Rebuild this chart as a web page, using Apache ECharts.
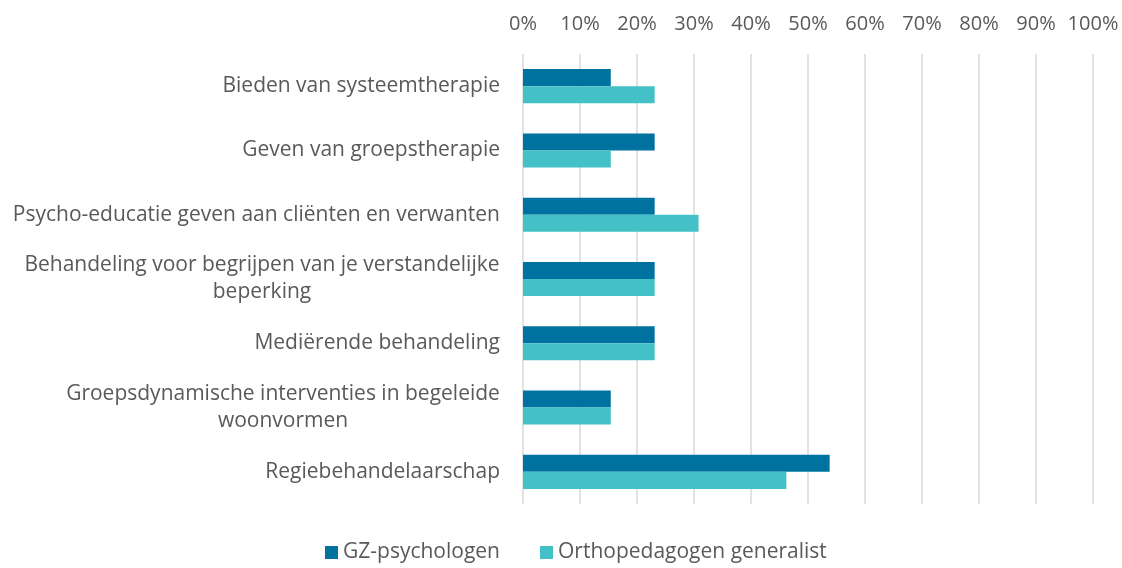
<!DOCTYPE html>
<html>
<head>
<meta charset="utf-8">
<script src="https://cdn.jsdelivr.net/npm/echarts@6/dist/echarts.min.js"></script>
<style>
html,body{margin:0;padding:0;background:#fff;}
#chart{width:1122px;height:568px;}
</style>
</head>
<body>
<div id="chart"></div>
<script>
const categories = [
  "Bieden van systeemtherapie",
  "Geven van groepstherapie",
  "Psycho-educatie geven aan cliënten en verwanten",
  "Behandeling voor begrijpen van je verstandelijke\nbeperking",
  "Mediërende behandeling",
  "Groepsdynamische interventies in begeleide\nwoonvormen",
  "Regiebehandelaarschap"
];
const seriesNames = ["GZ-psychologen", "Orthopedagogen generalist"];
const gzValues = [0.154, 0.231, 0.231, 0.231, 0.231, 0.154, 0.538];
const orthoValues = [0.231, 0.154, 0.308, 0.231, 0.231, 0.154, 0.462];
const xTicks = [0, 0.1, 0.2, 0.3, 0.4, 0.5, 0.6, 0.7, 0.8, 0.9, 1.0];

const FONT = '"Open Sans", sans-serif';
const FS = 21;
const AXFS = 20;
const TXT = '#595959';

const ctx = document.createElement('canvas').getContext('2d');
ctx.font = FS + 'px ' + FONT;
const richStyles = {};
function labelFormatter(v) {
  if (v.indexOf('\n') < 0) return v;
  const lines = v.split('\n');
  const w = Math.ceil(Math.max.apply(null, lines.map(l => ctx.measureText(l).width)));
  richStyles['w' + w] = {width: w, align: 'center', fontSize: FS, fontFamily: FONT, color: TXT, lineHeight: 27};
  return lines.map(l => '{w' + w + '|' + l + '}').join('\n');
}
categories.forEach(labelFormatter);

const chart = echarts.init(document.getElementById('chart'));
chart.setOption({
  animation: false,
  backgroundColor: '#fff',
  textStyle: {fontFamily: FONT},
  grid: {left: 523, right: 29, top: 54, bottom: 64, containLabel: false},
  legend: {
    data: seriesNames,
    bottom: 0,
    left: 320,
    itemWidth: 13,
    itemHeight: 13,
    itemGap: 40,
    icon: 'rect',
    textStyle: {fontSize: FS, color: TXT, fontFamily: FONT}
  },
  xAxis: {
    type: 'value',
    position: 'top',
    min: xTicks[0],
    max: xTicks[xTicks.length - 1],
    interval: 0.1,
    axisLine: {show: false},
    axisTick: {show: false},
    splitLine: {show: true, lineStyle: {color: '#d9d9d9', width: 1.5}},
    axisLabel: {
      fontSize: AXFS, color: TXT, fontFamily: FONT, margin: 20,
      formatter: v => Math.round(v * 100) + '%'
    }
  },
  yAxis: {
    type: 'category',
    data: categories,
    inverse: true,
    axisLine: {show: false},
    axisTick: {show: false},
    axisLabel: {
      fontSize: FS, color: TXT, fontFamily: FONT, margin: 23,
      lineHeight: 27,
      formatter: labelFormatter,
      rich: richStyles
    }
  },
  series: [
    {name: seriesNames[0], type: 'bar', data: gzValues, barGap: '0%', barCategoryGap: '47%',
     itemStyle: {color: '#0072A0'}},
    {name: seriesNames[1], type: 'bar', data: orthoValues, barGap: '0%', barCategoryGap: '47%',
     itemStyle: {color: '#43C1C6'}}
  ]
});
</script>
</body>
</html>
